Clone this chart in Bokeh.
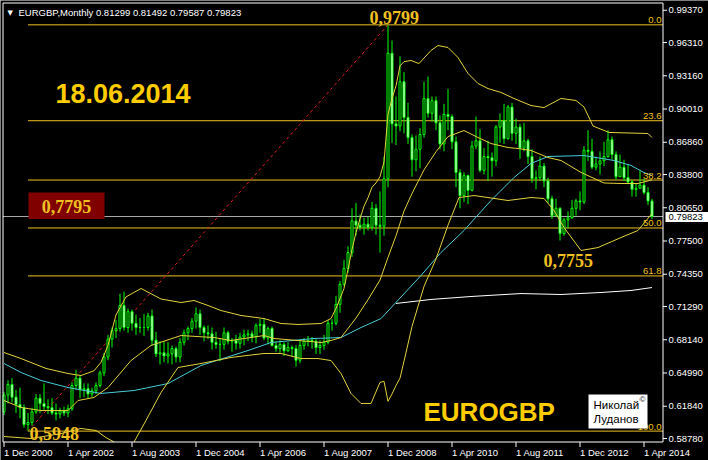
from bokeh.plotting import figure
from bokeh.models import Range1d, Label, BoxAnnotation, ColumnDataSource
from bokeh.embed import file_html
from bokeh.resources import INLINE

NaN = float("nan")

# ---------------- data (month index 0 = Dec 2000) ----------------
opens = [.613,.629,.639,.627,.620,.617,.601,.603,.613,.626,
         .621,.618,.617,.612,.611,.614,.612,.616,.638,.645,
         .634,.635,.630,.633,.638,.650,.665,.682,.690,.692,
         .714,.693,.708,.697,.693,.693,.693,.704,.681,.668,
         .669,.666,.668,.673,.665,.679,.688,.692,.699,.706,
         .693,.688,.687,.679,.677,.677,.688,.680,.681,.678,
         .684,.686,.687,.684,.695,.696,.683,.692,.676,.673,
         .677,.671,.674,.673,.662,.676,.680,.681,.680,.674,
         .676,.679,.697,.697,.715,.734,.749,.764,.794,.790,
         .788,.791,.788,.806,.790,.789,.834,.953,.886,.884,
         .926,.892,.873,.852,.862,.876,.910,.896,.908,.887,
         .867,.895,.893,.869,.840,.818,.837,.823,.865,.870,
         .842,.855,.854,.851,.883,.889,.872,.902,.877,.883,
         .863,.870,.855,.834,.835,.846,.832,.815,.799,.806,
         .782,.795,.797,.806,.813,.812,.861,.860,.845,.848,
         .851,.855,.871,.857,.836,.845,.835,.831,.824,.825,
         .828,.821,.81299]
highs = [.632,.643,.645,.634,.636,.620,.612,.617,.630,.630,
         .640,.625,.626,.621,.617,.618,.620,.641,.653,.648,
         .640,.640,.636,.641,.652,.669,.686,.693,.700,.725,
         .727,.711,.710,.705,.702,.706,.707,.710,.689,.680,
         .680,.679,.676,.675,.683,.691,.694,.702,.712,.710,
         .695,.695,.693,.689,.683,.693,.690,.683,.686,.688,
         .691,.691,.690,.697,.701,.702,.694,.694,.680,.681,
         .679,.679,.676,.676,.682,.683,.685,.684,.682,.681,
         .686,.700,.701,.723,.737,.757,.770,.806,.811,.800,
         .797,.798,.812,.810,.822,.855,.9799,.965,.912,.950,
         .935,.906,.876,.875,.882,.926,.931,.912,.912,.894,
         .905,.919,.895,.874,.843,.840,.838,.870,.893,.881,
         .863,.870,.859,.885,.896,.905,.904,.906,.891,.886,
         .887,.872,.862,.842,.855,.849,.835,.818,.815,.807,
         .797,.803,.814,.815,.822,.865,.880,.872,.855,.860,
         .869,.880,.874,.860,.857,.852,.848,.833,.829,.842,
         .834,.826,.81492]
lows = [.610,.621,.622,.612,.607,.598,.5948,.600,.611,.612,
        .614,.611,.610,.605,.607,.609,.608,.614,.634,.626,
        .627,.626,.627,.630,.636,.647,.662,.674,.683,.689,
        .690,.688,.690,.686,.688,.685,.690,.676,.665,.658,
        .660,.659,.658,.660,.660,.676,.681,.688,.692,.686,
        .680,.682,.672,.673,.661,.672,.677,.670,.672,.673,
        .676,.680,.679,.678,.688,.681,.677,.675,.670,.669,
        .666,.670,.665,.656,.659,.672,.675,.673,.668,.668,
        .672,.677,.690,.695,.707,.732,.745,.760,.780,.785,
        .781,.785,.785,.781,.764,.780,.826,.868,.866,.879,
        .877,.867,.836,.841,.844,.873,.892,.888,.880,.862,
        .860,.880,.862,.826,.806,.812,.810,.822,.862,.840,
        .838,.832,.836,.846,.868,.867,.871,.870,.867,.853,
        .860,.848,.830,.824,.832,.826,.811,.796,.798,.7755,
        .780,.787,.796,.799,.804,.810,.851,.843,.842,.838,
        .846,.854,.852,.833,.836,.832,.830,.817,.817,.825,
        .819,.809,.79587]
closes = [.629,.639,.627,.620,.617,.601,.603,.613,.626,.621,
          .618,.617,.612,.611,.614,.612,.616,.638,.645,.634,
          .635,.630,.633,.638,.650,.665,.682,.690,.692,.714,
          .693,.708,.697,.693,.693,.693,.704,.681,.668,.669,
          .666,.668,.673,.665,.679,.688,.692,.699,.706,.693,
          .688,.687,.679,.677,.677,.688,.680,.681,.678,.684,
          .686,.687,.684,.695,.696,.683,.692,.676,.673,.677,
          .671,.674,.673,.662,.676,.680,.681,.680,.674,.676,
          .679,.697,.697,.715,.734,.749,.764,.794,.790,.788,
          .791,.788,.806,.790,.789,.834,.953,.886,.884,.926,
          .892,.873,.852,.862,.876,.910,.896,.908,.887,.867,
          .895,.893,.869,.840,.818,.837,.823,.865,.870,.842,
          .855,.854,.851,.883,.889,.872,.902,.877,.883,.863,
          .870,.855,.834,.835,.846,.832,.815,.799,.806,.782,
          .795,.797,.806,.813,.812,.861,.860,.845,.848,.851,
          .855,.871,.857,.836,.845,.835,.831,.824,.825,.828,
          .821,.813,.79823]
months = list(range(len(closes)))

# Bollinger bands (NaN = off the chart)
bb_up_m = [0,4.25,10.5,16,19.25,22.5,24.25,26,28,30.5,
           34.25,39.25,44.25,47.5,51,54.25,59.25,65,69.25,73.5,
           79.25,81.75,83,85,86,87,88,89,90,91,
           92,93,94,95,96,97,98,99,100,101.75,
           103.75,106.75,108.5,111,113.5,116,118.5,121,124.25,127.5,
           131.75,135,139.25,143,145,147.25,151.25,161,162]
bb_up_p = [.6693,.6636,.6542,.6494,.6475,.652,.660,.676,.705,.722,
           .730,.720,.7167,.7186,.7139,.7091,.7044,.7015,.6968,.6959,
           .6968,.7015,.711,.730,.748,.767,.783,.796,.808,.816,
           .826,.830,.836,.850,.895,.910,.922,.941,.945,.9461,
           .9432,.9556,.9603,.9584,.9489,.9338,.9243,.9195,.9158,.9101,
           .9034,.9015,.9101,.9082,.902,.884,.8779,.8769,.8731]
bb_mid_m = [0,4.25,9.25,16,18.5,22.5,26,31.75,36.75,44.25,
            52.5,56.75,65,67.5,73.5,79.25,81.75,84.25,88,91,
            94,96,98,100,102,105,108,111,115,118.5,
            121.75,126,128.5,131.75,136,139.25,144.25,150,154.25,158.5,
            162]
bb_mid_p = [.6238,.6172,.6143,.6143,.6238,.6267,.6361,.6617,.6760,.6854,
            .6835,.6807,.6854,.6826,.6807,.6788,.6807,.6835,.702,.7194,
            .738,.7594,.780,.8034,.820,.8424,.8596,.874,.8797,.8731,
            .8674,.8636,.8627,.8608,.8541,.8513,.840,.830,.8295,.8295,
            .833]
bb_low_m = [0,6.75,14.25,19.25,23,25.5,27.5,NaN,32.5,35.5,
            39.25,43.5,49.25,56.75,65,69.25,74.25,78.5,81.75,84.25,
            86.75,89.25,91.75,94,95,96,97,98,99,100,
            102,105,108,111,113.75,117.5,121,126,131.75,135,
            137.5,140,144.25,148.5,154.25,158.5,162]
bb_low_p = [.5897,.5878,.5925,.5973,.5954,.5887,.5845,NaN,.5845,.6049,
            .6314,.6551,.6589,.6646,.6684,.6684,.6636,.6636,.6617,.6494,
            .6305,.6210,.6210,.641,.642,.623,.630,.638,.645,.661,
            .694,.732,.758,.790,.8162,.8181,.8162,.8134,.8162,.8153,
            .8039,.7878,.7660,.7688,.7783,.7850,.8011]
# moving averages
ma_cyan_m = [0,4.25,9.25,16,24.25,32.5,41,49.25,61,66.75,77.5,84.25,89.25,94.25,104.25,109.25,115,
             121.75,127.5,131.75,136,145,152.5,156.75,160,162]
ma_cyan_p = [.6589,.6504,.6428,.6361,.6305,.6333,.6399,.6570,.6712,.6788,.6826,.6835,.6930,.7015,.7423,
             .7641,.7850,.8134,.8352,.8485,.8551,.8560,.8513,.8466,.8399,.8371]
ma_white_m = [98,106.75,116.75,129.25,139.25,149.25,156.75,162]
ma_white_p = [.7158,.7196,.7224,.7252,.7243,.7262,.7281,.7309]

# fibonacci
fib_low, fib_low_m = 0.5948, 6
fib_high, fib_high_m = 0.9799, 96
fib_ratios = [0.0, 23.6, 38.2, 50.0, 61.8, 100.0]
fib_texts = ["0.0", "23.6", "38.2", "50.0", "61.8", "100.0"]
fib_levels = [fib_high - r / 100.0 * (fib_high - fib_low) for r in fib_ratios]

last_price = 0.79823
price_ticks = [0.58780, 0.61840, 0.64990, 0.68140, 0.71290, 0.74350, 0.77500, 0.80650,
               0.83800, 0.86860, 0.90010, 0.93160, 0.96310, 0.99370]
date_ticks = [0, 16, 32, 48, 64, 80, 96, 112, 128, 144, 160]
date_labels = ["1 Dec 2000", "1 Apr 2002", "1 Aug 2003", "1 Dec 2004", "1 Apr 2006", "1 Aug 2007",
               "1 Dec 2008", "1 Apr 2010", "1 Aug 2011", "1 Dec 2012", "1 Apr 2014"]

# ---------------- layout helpers (canvas pixel -> data) ----------------
W, H = 708, 460
X0 = -0.875          # month at canvas x = 0  (4 px per month)
Y0 = 1.00297         # price at canvas y = 0  (1055 px per unit)
def X(px):
    return X0 + px / 4.0
def Y(py):
    return Y0 - py / 1055.0

GOLD = "#F0C020"
BAND = "#E2D23A"
FONT = "Liberation Sans"

p = figure(width=W, height=H, output_backend="svg", toolbar_location=None,
           x_range=Range1d(X0, X0 + W / 4.0), y_range=Range1d(Y0 - H / 1055.0, Y0),
           x_axis_location=None, y_axis_location=None, min_border=0,
           background_fill_color="black", border_fill_color="black")
p.outline_line_color = None
p.grid.visible = False

L, R, T, B = X(2.5), X(662.5), Y(2.5), Y(441.5)

# fib lines, current price line, trend line
p.segment(x0=[fib_low_m] * len(fib_levels), y0=fib_levels, x1=[R] * len(fib_levels), y1=fib_levels,
          line_color=GOLD, line_width=1)
p.segment(x0=[L], y0=[last_price], x1=[R], y1=[last_price], line_color="#A8A8A8", line_width=1)
p.segment(x0=[fib_low_m], y0=[fib_low], x1=[fib_high_m], y1=[fib_high],
          line_color="#E0202A", line_dash="3 3", line_width=1)

# candles
src = ColumnDataSource(dict(
    m=months, o=opens, h=highs, l=lows, c=closes,
    top=[max(a, b) for a, b in zip(opens, closes)],
    bot=[min(a, b) for a, b in zip(opens, closes)],
    fill=["black" if c >= o else "white" for o, c in zip(opens, closes)]))
p.segment(x0="m", y0="l", x1="m", y1="h", source=src, line_color="#00FF00", line_width=1)
p.vbar(x="m", width=0.5, top="top", bottom="bot", source=src,
       fill_color="fill", line_color="#00FF00", line_width=1)

# indicators
p.line(ma_white_m, ma_white_p, line_color="white", line_width=1)
p.line(ma_cyan_m, ma_cyan_p, line_color="#48CCD8", line_width=1)
p.line(bb_up_m, bb_up_p, line_color=BAND, line_width=1)
p.line(bb_mid_m, bb_mid_p, line_color=BAND, line_width=1)
p.line(bb_low_m, bb_low_p, line_color=BAND, line_width=1)

# chart border
p.segment(x0=[L, L, L, R], y0=[T, B, T, T], x1=[R, R, L, R], y1=[T, B, B, B],
          line_color="white", line_width=1)

# price scale (right)
p.segment(x0=[R] * len(price_ticks), y0=price_ticks, x1=[X(666.5)] * len(price_ticks), y1=price_ticks,
          line_color="white", line_width=1)
for v in price_ticks:
    p.add_layout(Label(x=X(668), y=v, text="%.5f" % v, text_color="white", text_font=FONT,
                       text_font_size="9.5px", text_baseline="middle"))
p.add_layout(BoxAnnotation(left=X(665), right=X(708), top=Y(211.5), bottom=Y(221.5),
                           fill_color="white", fill_alpha=1, line_color=None))
p.add_layout(Label(x=X(668), y=last_price, text="%.5f" % last_price, text_color="black", text_font=FONT,
                   text_font_size="9.5px", text_baseline="middle"))

# time scale (bottom)
p.segment(x0=date_ticks, y0=[B] * len(date_ticks), x1=date_ticks, y1=[Y(446.5)] * len(date_ticks),
          line_color="white", line_width=1)
for m, t in zip(date_ticks, date_labels):
    p.add_layout(Label(x=m, y=Y(452), text=t, text_color="white", text_font=FONT,
                       text_font_size="9.5px", text_baseline="middle", text_align="left"))

# fib level texts
for lv, t in zip(fib_levels, fib_texts):
    p.add_layout(Label(x=X(661), y=lv + 1.5 / 1055.0, text=t, text_align="right", text_baseline="bottom",
                       text_color=GOLD, text_font=FONT, text_font_size="9.5px"))

# header
p.add_layout(Label(x=X(7), y=Y(12), text="\u25BC", text_color="white", text_font="DejaVu Sans",
                   text_font_size="7px", text_baseline="middle"))
p.add_layout(Label(x=X(18), y=Y(12), text="EURGBP,Monthly  0.81299 0.81492 0.79587 0.79823",
                   text_color="white", text_font=FONT, text_font_size="9.5px", text_baseline="middle"))

# annotations
p.add_layout(Label(x=X(369), y=Y(17), text="0,9799", text_color=GOLD, text_font="Liberation Serif",
                   text_font_style="bold", text_font_size="18px", text_baseline="middle"))
p.add_layout(Label(x=X(55), y=Y(93), text="18.06.2014", text_color="#FFCC00", text_font=FONT,
                   text_font_style="bold", text_font_size="27px", text_baseline="middle"))
p.add_layout(BoxAnnotation(left=X(28), right=X(104), top=Y(192), bottom=Y(218.5),
                           fill_color="#800000", fill_alpha=1, line_color=None))
p.add_layout(Label(x=X(66), y=Y(206), text="0,7795", text_color=GOLD, text_font="Liberation Serif",
                   text_font_style="bold", text_font_size="18px", text_align="center",
                   text_baseline="middle"))
p.add_layout(Label(x=X(543), y=Y(260), text="0,7755", text_color=GOLD, text_font="Liberation Serif",
                   text_font_style="bold", text_font_size="18px", text_baseline="middle"))
p.add_layout(Label(x=X(29), y=Y(433), text="0,5948", text_color=GOLD, text_font="Liberation Serif",
                   text_font_style="bold", text_font_size="18px", text_baseline="middle"))
p.add_layout(Label(x=X(423), y=Y(411), text="EUROGBP", text_color="#FFCC00", text_font=FONT,
                   text_font_style="bold", text_font_size="26px", text_baseline="middle"))

# watermark
p.add_layout(BoxAnnotation(left=X(588), right=X(647), top=Y(394), bottom=Y(428),
                           fill_color="white", fill_alpha=1, line_color=None))
p.add_layout(Label(x=X(593), y=Y(404), text="Николай", text_color="black", text_font=FONT,
                   text_font_size="11.5px", text_baseline="middle"))
p.add_layout(Label(x=X(593), y=Y(418), text="Луданов", text_color="black", text_font=FONT,
                   text_font_size="11.5px", text_baseline="middle"))
p.add_layout(Label(x=X(639), y=Y(399), text="©", text_color="black", text_font=FONT,
                   text_font_size="8px", text_baseline="middle"))

open("out.html", "w").write(file_html(p, INLINE))
